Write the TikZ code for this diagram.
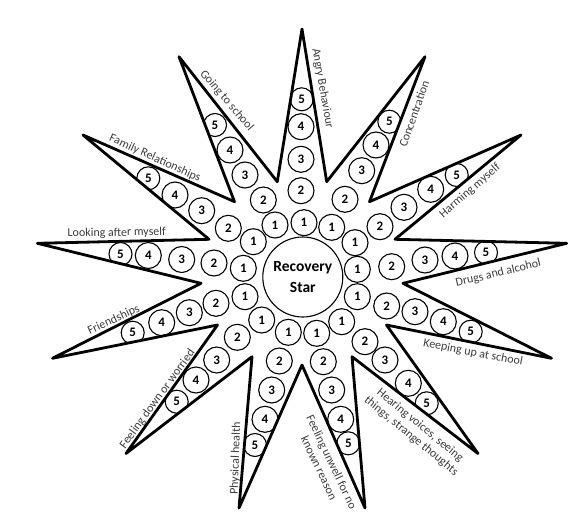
\documentclass[tikz,border=0pt]{standalone}
\usepackage{fontspec}
\setmainfont{Carlito}
\definecolor{labgray}{HTML}{3C3C3C}
\begin{document}
\begin{tikzpicture}[x=1pt,y=-1pt,
  numc/.style={circle,draw,line width=1.1pt,minimum size=26pt,inner sep=0pt,font=\fontsize{13}{13}\selectfont\bfseries},
  numsm/.style={numc,minimum size=23pt},
  lab/.style={text=labgray,inner sep=0pt,font=\fontsize{12}{14}\selectfont,align=center},
  starline/.style={line width=2.8pt,line join=round}]
\useasboundingbox (0,0) rectangle (585,511);
\coordinate (tA) at (302,29);
\coordinate (vAC) at (326.7,181.7);
\coordinate (tC) at (425,56.7);
\coordinate (vCH) at (369.5,201.7);
\coordinate (tH) at (521,135);
\coordinate (vHD) at (395,239.3);
\coordinate (tD) at (566.7,243.3);
\coordinate (vDK) at (403,283.3);
\coordinate (tK) at (551.5,358.3);
\coordinate (vKH) at (386.5,325);
\coordinate (tHe) at (478,453.5);
\coordinate (vHF) at (352,356.7);
\coordinate (tF) at (365,508);
\coordinate (vFP) at (302,365);
\coordinate (tP) at (239,508);
\coordinate (vPD) at (252,356.7);
\coordinate (tFd) at (126,453.5);
\coordinate (vDF) at (217.5,325);
\coordinate (tFr) at (52.5,358.3);
\coordinate (vFL) at (201,283.3);
\coordinate (tL) at (37.3,243.3);
\coordinate (vLF) at (209,239.3);
\coordinate (tFa) at (83,135);
\coordinate (vFG) at (234.5,201.7);
\coordinate (tG) at (179,56.7);
\coordinate (vGA) at (277.3,181.7);
\def\starpath{(tA) -- (vAC) -- (tC) -- (vCH) -- (tH) -- (vHD) -- (tD) -- (vDK) -- (tK) -- (vKH) -- (tHe) -- (vHF) -- (tF) -- (vFP) -- (tP) -- (vPD) -- (tFd) -- (vDF) -- (tFr) -- (vFL) -- (tL) -- (vLF) -- (tFa) -- (vFG) -- (tG) -- (vGA) -- cycle}
\begin{scope}
\clip \starpath;
\foreach \nm/\x/\y/\n in {
 a2/301/190.7/2, a3/301/159.3/3, a4/301/126.7/4,
 c2/345/199.3/2, c3/361.7/170.7/3, c4/376/145/4,
 h2/380/226.7/2, h3/404/207.3/3, h4/430.7/189.3/4,
 d2/391.7/266.7/2, d3/425/260/3, d4/455/256/4,
 k2/386.7/306/2, k3/415/311.7/3, k4/443.3/321.7/4,
 v2/365/341.7/2, v3/385/360/3, v4/408.3/383.3/4,
 u2/323.3/361.7/2, u3/331.7/390/3, u4/340.7/419.3/4,
 p2/279.3/361/2, p3/271.7/390/3, p4/265/419.3/4,
 w2/237.3/337.3/2, w3/216.7/360/3, w4/196/380/4,
 f2/216/303.3/2, f3/189.3/312.7/3, f4/161.7/322.7/4,
 l2/214/263/2, l3/181.7/259.5/3, l4/148.3/255.5/4,
 r2/228.3/228.3/2, r3/201.7/210.7/3, r4/175/195/4,
 g2/263.3/200/2, g3/245/175/3, g4/230/150/4}
 \node[numc] (\nm) at (\x,\y) {\n};
\foreach \nm/\x/\y in {
 a5/301.7/99.3, c5/389.3/121.7, h5/456.7/175, d5/486/252.5, k5/470.7/331.7,
 v5/426.7/403.3, u5/348.3/443.3, p5/255/445, w5/176.7/401.7, f5/132.7/332.7,
 l5/120.5/254, r5/148.3/178.3, g5/215/125}
 \node[numsm] (\nm) at (\x,\y) {5};
\end{scope}
\foreach \nm/\x/\y in {
 o1/304/222.7, o2/331.7/227.3, o3/355/242.7, o4/357.3/269.3, o5/357.3/296.7,
 o6/341.7/321.7, o7/316.7/333.3, o8/288.3/332.3, o9/261.7/320, o10/245/296.7,
 o11/243.3/268.3, o12/253.3/241.7, o13/275/225}
 \node[numc] (\nm) at (\x,\y) {1};
\node[circle,draw,line width=1.1pt,minimum size=80pt,inner sep=0pt,align=center,
  font=\fontsize{15.5}{21}\selectfont\bfseries] (centre) at (302.8,277) {Recovery\\Star};
\draw[starline] \starpath;
\node[lab,rotate=-80] (lA) at (322.5,88.3) {Angry Behaviour};
\node[lab,rotate=70.5] (lC) at (414,114) {Concentration};
\node[lab,rotate=41] (lH) at (470,190.8) {Harming myself};
\node[lab,rotate=13.4] (lD) at (498.3,273.3) {Drugs and alcohol};
\node[lab,rotate=-10.5] (lK) at (473,352.8) {Keeping up at school};
\node[lab,rotate=-39.5] (lV) at (415.5,430.8) {Hearing voices, seeing\\things, strange thoughts};
\node[lab,rotate=-64.5] (lU) at (325.5,465) {Feeling unwell for no\\known reason};
\node[lab,rotate=88] (lP) at (235.8,458.3) {Physical health};
\node[lab,rotate=54] (lW) at (157.5,399.2) {Feeling down or worried};
\node[lab,rotate=25] (lF) at (113.8,320) {Friendships};
\node[lab,rotate=1] (lL) at (116.7,233) {Looking after myself};
\node[lab,rotate=-24.5] (lR) at (155,158.3) {Family Relationships};
\node[lab,rotate=-49.5] (lG) at (226.7,100.8) {Going to school};
\end{tikzpicture}
\end{document}
